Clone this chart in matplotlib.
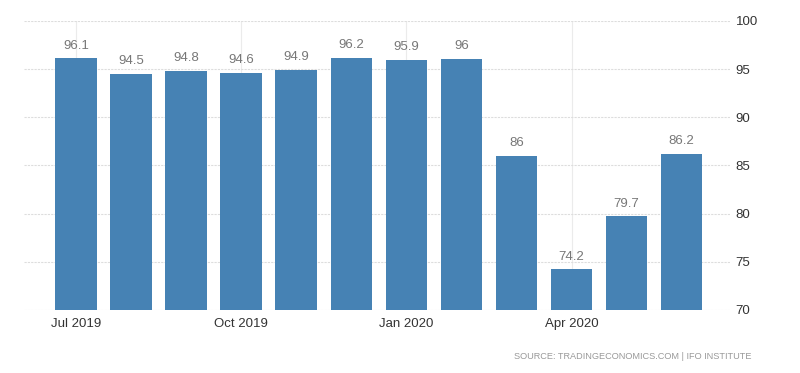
import numpy as np
import matplotlib
matplotlib.use("Agg")
import matplotlib.pyplot as plt

months = ["Jul 2019", "Aug 2019", "Sep 2019", "Oct 2019", "Nov 2019", "Dec 2019",
          "Jan 2020", "Feb 2020", "Mar 2020", "Apr 2020", "May 2020", "Jun 2020"]
values = [96.1, 94.5, 94.8, 94.6, 94.9, 96.2, 95.9, 96, 86, 74.2, 79.7, 86.2]
tick_idx = [0, 3, 6, 9]
yticks = [70, 75, 80, 85, 90, 95, 100]

plt.rcParams['font.family'] = ['Liberation Sans', 'DejaVu Sans']

fig = plt.figure(figsize=(8, 3.73), dpi=100)
ax = fig.add_axes([0.03, 0.169, 0.8825, 0.775])

x = np.arange(len(values))
bars = ax.bar(x, values, width=0.76, color='#4682b4', zorder=3)

# value labels above each bar
for xi, v in zip(x, values):
    ax.annotate(f"{v:g}", (xi, v), xytext=(0, 5), textcoords='offset points',
                ha='center', va='bottom', fontsize=9.5, color='#777777', zorder=4)

ax.set_ylim(70, 100)
ax.set_xlim(-0.95, 11.88)
ax.set_yticks(yticks)
ax.set_xticks([x[i] for i in tick_idx])
ax.set_xticklabels([months[i] for i in tick_idx], fontsize=9.5, color='#333333')
ax.yaxis.tick_right()
ax.tick_params(axis='y', length=0, pad=4, labelsize=9.5, labelcolor='#333333')
ax.tick_params(axis='x', length=0, pad=6)

ax.grid(axis='y', linestyle=(0, (2, 1)), color='#dddddd', linewidth=0.8, zorder=0)
ax.grid(axis='x', linestyle='-', color='#ebebeb', linewidth=0.8, zorder=0)
for s in ax.spines.values():
    s.set_visible(False)

fig.text(0.94, 0.045, "SOURCE: TRADINGECONOMICS.COM | IFO INSTITUTE", ha='right', va='center',
         fontsize=6.6, color='#999999')

fig.savefig("out.png", dpi=100)
